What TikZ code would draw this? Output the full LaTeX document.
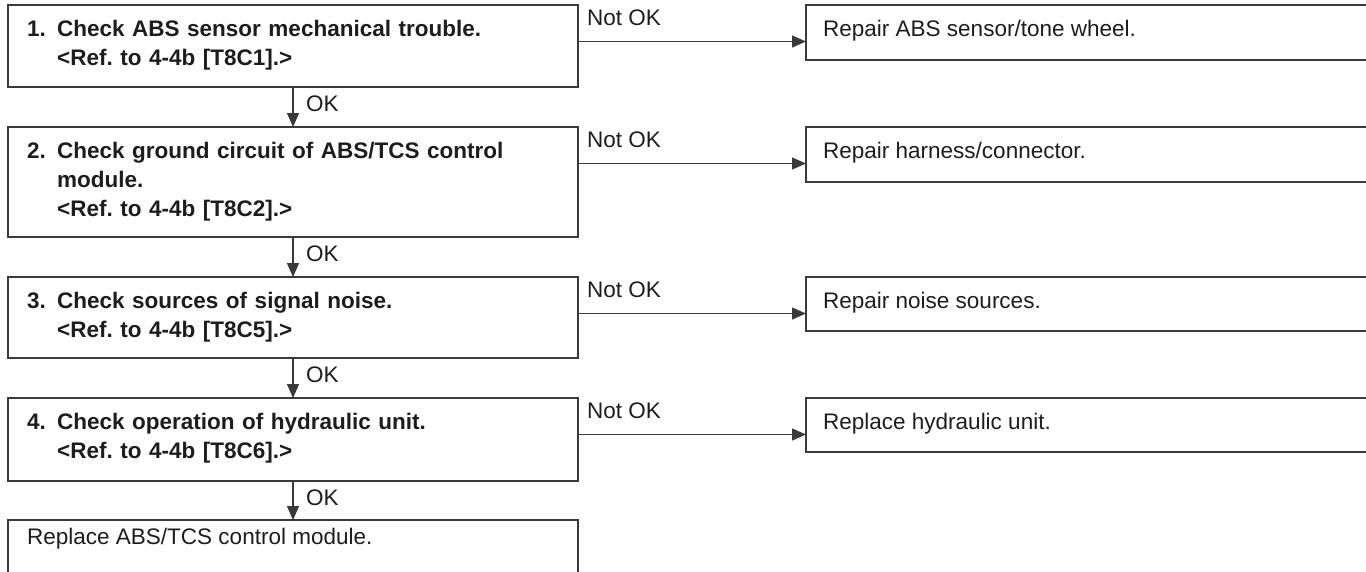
\documentclass[tikz,border=0pt]{standalone}
\usepackage{fontspec}
\setmainfont{Liberation Sans}
\usetikzlibrary{arrows.meta}
\definecolor{ink}{HTML}{1E1C1D}
\definecolor{edge}{HTML}{3A3A3A}
\newcommand\stepno[1]{\makebox[30pt][l]{#1}}
\frenchspacing
\begin{document}
\begin{tikzpicture}[x=1pt,y=-1pt,
  box/.style={draw=edge, line width=1.4pt, rectangle, anchor=north west, inner sep=0pt, outer sep=0pt, minimum width=570pt},
  rbox/.style={box, minimum width=700pt, minimum height=55pt},
  steptext/.style={anchor=base west, inner sep=0pt, text width=540pt, align=left, font=\fontsize{22.5}{29}\selectfont\bfseries\frenchspacing, text=ink},
  plaintext/.style={anchor=base west, inner sep=0pt, font=\fontsize{22.5}{29}\selectfont\frenchspacing, text=ink},
  arr/.style={draw=edge, line width=1.4pt, -{Triangle[length=14pt,width=12pt]}},
]
\useasboundingbox (0,0) rectangle (1366,571);
\clip (0,0) rectangle (1366,571);

% left boxes
\node[box, minimum height=82pt] (s1) at (8,5) {};
\node[box, minimum height=110pt] (s2) at (8,127) {};
\node[box, minimum height=81pt] (s3) at (8,277) {};
\node[box, minimum height=83pt] (s4) at (8,398) {};
\node[box, minimum height=90pt] (s5) at (8,520) {};

% right boxes
\node[rbox] (r1) at (806,5) {};
\node[rbox] (r2) at (806,127) {};
\node[rbox, minimum height=54pt] (r3) at (806,277) {};
\node[rbox, minimum height=54pt] (r4) at (806,398) {};

% texts
\node[steptext] (t1) at ([xshift=19pt,yshift=-31pt]s1.north west)
  {\stepno{1.}Check ABS sensor mechanical trouble.\\\hspace*{30pt}<Ref. to 4-4b [T8C1].>};
\node[steptext] (t2) at ([xshift=19pt,yshift=-31pt]s2.north west)
  {\stepno{2.}Check ground circuit of ABS/TCS control\\\hspace*{30pt}module.\\\hspace*{30pt}<Ref. to 4-4b [T8C2].>};
\node[steptext] (t3) at ([xshift=19pt,yshift=-31pt]s3.north west)
  {\stepno{3.}Check sources of signal noise.\\\hspace*{30pt}<Ref. to 4-4b [T8C5].>};
\node[steptext] (t4) at ([xshift=19pt,yshift=-31pt]s4.north west)
  {\stepno{4.}Check operation of hydraulic unit.\\\hspace*{30pt}<Ref. to 4-4b [T8C6].>};
\node[plaintext] (t5) at ([xshift=19pt,yshift=-24pt]s5.north west) {Replace ABS/TCS control module.};

\node[plaintext] (u1) at ([xshift=17pt,yshift=-31pt]r1.north west) {Repair ABS sensor/tone wheel.};
\node[plaintext] (u2) at ([xshift=17pt,yshift=-31pt]r2.north west) {Repair harness/connector.};
\node[plaintext] (u3) at ([xshift=17pt,yshift=-31pt]r3.north west) {Repair noise sources.};
\node[plaintext] (u4) at ([xshift=17pt,yshift=-31pt]r4.north west) {Replace hydraulic unit.};

% OK arrows
\foreach \a/\b in {s1/s2, s2/s3, s3/s4, s4/s5}{
  \draw[arr] (\a.south) -- (\b.north);
  \node[plaintext] (ok-\a) at ([xshift=13pt,yshift=-24pt]\a.south) {OK};
}

% Not OK arrows
\foreach \a/\b in {s1/r1, s2/r2, s3/r3, s4/r4}{
  \draw[arr] ([yshift=-36.5pt]\a.north east) -- ([yshift=-36.5pt]\b.north west);
  \node[plaintext] (nok-\a) at ([xshift=9pt,yshift=-20pt]\a.north east) {Not OK};
}
\end{tikzpicture}
\end{document}
